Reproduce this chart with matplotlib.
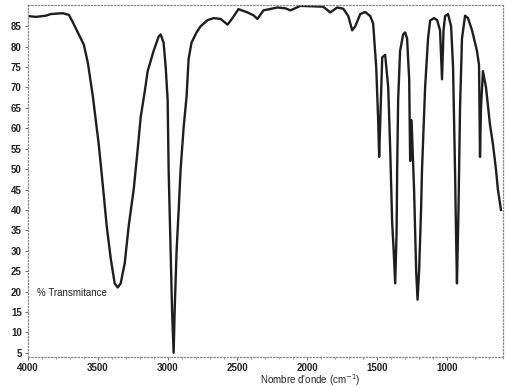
import numpy as np
import matplotlib.pyplot as plt

plt.rcParams['font.family'] = ['Liberation Sans', 'DejaVu Sans']

# wavenumber (cm-1) and % transmittance
wn = [4000, 3943, 3871, 3836, 3750, 3707, 3679, 3636, 3600, 3571, 3536, 3493,
      3464, 3436, 3407, 3379, 3357, 3336, 3307, 3279, 3243, 3214, 3193, 3164,
      3143, 3100, 3064, 3050, 3029, 3014, 3000, 2993, 2979, 2968, 2957, 2950,
      2936, 2921, 2907, 2886, 2864, 2850, 2829, 2793, 2764, 2714, 2671, 2621,
      2571, 2536, 2493, 2429, 2386, 2357, 2314, 2214, 2157, 2121, 2050, 1886,
      1836, 1786, 1743, 1707, 1679, 1657, 1621, 1586, 1550, 1529, 1507, 1493,
      1486, 1475, 1464, 1443, 1421, 1407, 1393, 1382, 1371, 1361, 1357, 1350,
      1336, 1314, 1300, 1286, 1271, 1264, 1254, 1236, 1221, 1211, 1200, 1186,
      1179, 1157, 1136, 1121, 1093, 1071, 1050, 1036, 1025, 1014, 993, 971,
      957, 943, 936, 929, 918, 907, 893, 871, 850, 821, 786, 771, 764, 757,
      743, 721, 693, 671, 650, 636, 614]
trans = [87.5, 87.3, 87.6, 88.0, 88.2, 87.8, 86.0, 83.0, 80.5, 76.0, 68.0, 56.0,
         46.0, 36.0, 28.0, 22.0, 21.0, 22.0, 27.0, 36.0, 45.0, 55.0, 62.7, 69.0,
         74.0, 79.0, 82.5, 83.0, 81.0, 75.0, 67.0, 50.0, 30.0, 15.0, 5.0, 15.0,
         30.0, 40.0, 50.0, 60.0, 68.0, 77.0, 81.0, 83.5, 85.0, 86.5, 87.0, 86.8,
         85.4, 87.0, 89.2, 88.4, 87.7, 86.8, 88.9, 89.6, 89.4, 88.9, 90.0, 89.8,
         88.4, 89.6, 89.3, 87.5, 84.0, 85.0, 88.0, 88.5, 87.5, 85.7, 75.0, 62.0,
         53.0, 65.0, 77.4, 78.0, 70.0, 55.0, 37.0, 30.0, 22.0, 35.0, 50.0, 67.0,
         79.0, 83.0, 83.5, 82.0, 72.0, 52.0, 62.0, 45.0, 25.0, 18.0, 25.0, 40.0,
         50.0, 70.0, 82.0, 86.4, 87.0, 86.5, 84.0, 72.0, 84.0, 87.5, 88.0, 85.0,
         75.0, 50.0, 35.0, 22.0, 40.0, 65.0, 82.0, 87.6, 87.0, 84.0, 79.0, 75.5,
         53.0, 65.0, 74.0, 70.0, 61.0, 56.0, 50.0, 45.0, 40.0]

x_ticks = [4000, 3500, 3000, 2500, 2000, 1500, 1000]
y_ticks = list(range(5, 90, 5))

fig = plt.figure(figsize=(5.08, 3.87), dpi=100)
ax = fig.add_axes([0.055, 0.078, 0.935, 0.91])
ax.plot(wn, trans, color='#1e1e1e', lw=1.7)

ax.set_xlim(4000, 600)
ax.set_ylim(4.0, 90.3)
ax.set_xticks(x_ticks)
ax.set_xticks(np.arange(4000, 599, -100), minor=True)
ax.set_yticks(y_ticks)
ax.tick_params(labelsize=7, length=2.5, width=0.6, color='#555555', pad=2)
ax.tick_params(which='minor', length=1.5, width=0.5, color='#777777')
for lab in ax.get_xticklabels() + ax.get_yticklabels():
    lab.set_fontweight('bold')
    lab.set_color('#222222')
for s in ax.spines.values():
    s.set_linestyle(':')
    s.set_color('#888888')
    s.set_linewidth(0.9)

ax.text(3935, 19.7, '% Transmitance', fontsize=7, va='center', ha='left',
        color='#222222')
fig.text(0.61, 0.018, "Nombre d'onde (cm$^{-1}$)", fontsize=7,
         ha='center', va='center', color='#222222')

fig.savefig('out.png', dpi=100)
